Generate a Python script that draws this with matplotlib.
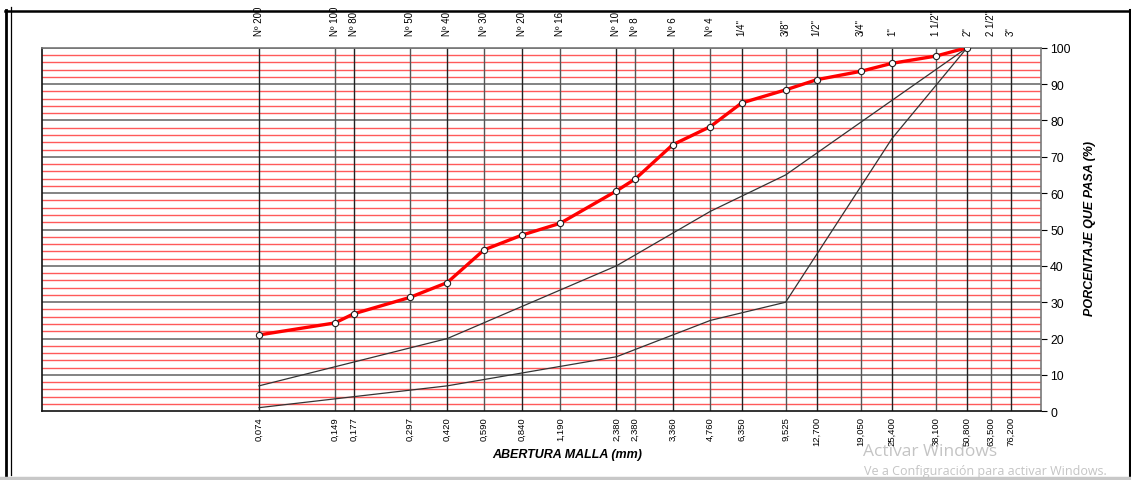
import numpy as np
import matplotlib.pyplot as plt
import matplotlib.transforms as mtransforms
from matplotlib.lines import Line2D

# sieve openings (mm) and labels
sieve_mm = [0.074, 0.149, 0.177, 0.297, 0.42, 0.59, 0.84, 1.19, 2.0, 2.38,
            3.36, 4.76, 6.35, 9.525, 12.7, 19.05, 25.4, 38.1, 50.8, 63.5, 76.2]
mm_labels = ["0,074", "0,149", "0,177", "0,297", "0,420", "0,590", "0,840",
             "1,190", "2,380", "2,380", "3,360", "4,760", "6,350", "9,525",
             "12,700", "19,050", "25,400", "38,100", "50,800", "63,500", "76,200"]
sieve_names = ["Nº 200", "Nº 100", "Nº 80", "Nº 50", "Nº 40", "Nº 30", "Nº 20",
               "Nº 16", "Nº 10", "Nº 8", "Nº 6", "Nº 4", "1/4\"", "3/8\"",
               "1/2\"", "3/4\"", "1\"", "1 1/2\"", "2\"", "2 1/2\"", "3\""]

# sample gradation (% passing)
sample_mm = [0.074, 0.149, 0.177, 0.297, 0.42, 0.59, 0.84, 1.19, 2.0, 2.38,
             3.36, 4.76, 6.35, 9.525, 12.7, 19.05, 25.4, 38.1, 50.8]
sample_pass = [21.0, 24.3, 26.8, 31.3, 35.4, 44.4, 48.5, 51.7, 60.6, 63.9,
               73.3, 78.3, 84.8, 88.4, 91.2, 93.5, 95.7, 97.7, 100]

# specification limits
upper_mm = [0.074, 0.42, 2.0, 4.76, 9.525, 50.8]
upper_pass = [7, 20, 40, 55, 65, 100]
lower_mm = [0.074, 0.42, 2.0, 4.76, 9.525, 25.4, 50.8]
lower_pass = [1, 7, 15, 25, 30, 75, 100]

plt.rcParams['font.family'] = ['Liberation Sans', 'DejaVu Sans']

fig = plt.figure(figsize=(11.31, 4.81), dpi=100)
ax = fig.add_axes([42 / 1131, 1 - 412.3 / 481, (1040.5 - 42) / 1131, (412.3 - 48.7) / 481])
ax.set_xscale('log')
ax.set_xlim(0.01, 100)
ax.set_ylim(0, 100)

# horizontal grid
for y in np.arange(2, 100, 2):
    if y % 10 == 0:
        ax.axhline(y, color='#7a7a7a', lw=1.3, zorder=1)
    else:
        ax.axhline(y, color='#ff5a5a', lw=1.0, zorder=1)
ax.axhline(100, color='#7a7a7a', lw=1.3, zorder=1)

# vertical sieve lines
for i, x in enumerate(sieve_mm):
    ax.axvline(x, color='#222222' if i % 2 == 0 else '#555555', lw=1.0, zorder=2)

ax.plot(upper_mm, upper_pass, color='#333333', lw=0.9, zorder=3)
ax.plot(lower_mm, lower_pass, color='#333333', lw=0.9, zorder=3)
ax.plot(sample_mm, sample_pass, color='#ff0000', lw=2.4, marker='o', ms=4.5,
        mfc='white', mec='#222222', mew=0.8, zorder=4)

ax.set_xticks([])
ax.minorticks_off()
ax.tick_params(axis='x', which='both', bottom=False, top=False, labelbottom=False)
ax.yaxis.tick_right()
ax.set_yticks(np.arange(0, 101, 10))
ax.tick_params(axis='y', length=4, width=0.8, labelsize=8.8, pad=3)
for s in ['left', 'bottom']:
    ax.spines[s].set_color('#111111')
    ax.spines[s].set_linewidth(1.2)
for s in ['top', 'right']:
    ax.spines[s].set_color('#777777')
    ax.spines[s].set_linewidth(1.2)

trans = mtransforms.blended_transform_factory(ax.transData, fig.transFigure)
for x, lab in zip(sieve_mm, mm_labels):
    ax.text(x, 1 - 417 / 481, lab, transform=trans, rotation=90, ha='center',
            va='top', fontsize=6.8, clip_on=False)
for x, lab in zip(sieve_mm, sieve_names):
    ax.text(x, 1 - 36 / 481, lab, transform=trans, rotation=90, ha='center',
            va='bottom', fontsize=7, clip_on=False)

fig.text(567 / 1131, 1 - 455 / 481, "ABERTURA MALLA (mm)", ha='center', va='center',
         fontsize=9, fontweight='bold', fontstyle='italic')
fig.text(1090 / 1131, 1 - 228 / 481, "PORCENTAJE QUE PASA (%)", ha='center', va='center',
         rotation=90, fontsize=9, fontweight='bold', fontstyle='italic')

# outer frame
W, H = 1131.0, 481.0
def fline(x0, y0, x1, y1, **kw):
    fig.add_artist(Line2D([x0 / W, x1 / W], [1 - y0 / H, 1 - y1 / H], **kw))

fline(5, 11.5, 1130, 11.5, color='black', lw=1.8)
fline(6, 11, 6, 478, color='black', lw=2.0)
fline(11, 8, 11, 476, color='black', lw=0.9)
fline(1129.5, 11, 1129.5, 478, color='black', lw=1.5)
fline(0, 479, 1131, 479, color='#c8c8c8', lw=2.5)

fig.text(863 / W, 1 - 452 / H, "Activar Windows", fontsize=12.5, color='#c4c4c4',
         ha='left', va='center', family=['Open Sans', 'DejaVu Sans'])
fig.text(864 / W, 1 - 472 / H, "Ve a Configuración para activar Windows.", fontsize=9,
         color='#c4c4c4', ha='left', va='center', family=['Open Sans', 'DejaVu Sans'])

fig.savefig('out.png', dpi=100)
